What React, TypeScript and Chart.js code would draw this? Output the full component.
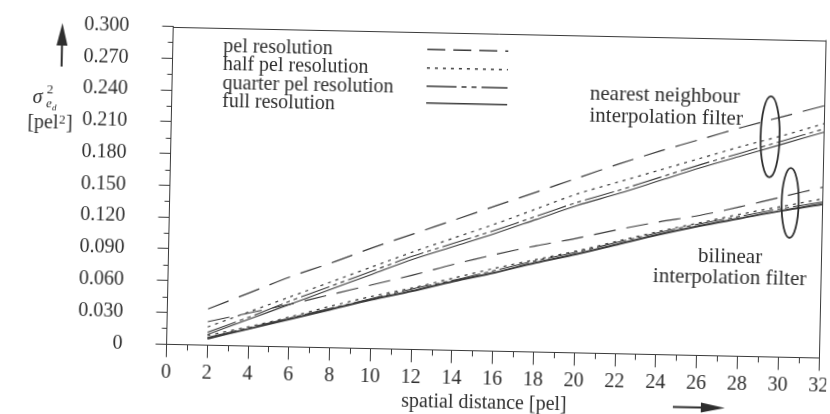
import { useEffect, useRef } from "react";
import { Chart, registerables } from "chart.js";

Chart.register(...registerables);

// ---- data ----
const distances = [2, 4, 6, 8, 10, 12, 14, 16, 18, 20, 22, 24, 26, 28, 30, 32];

// nearest neighbour interpolation filter
const pelNN = [0.034, 0.05, 0.066, 0.08, 0.095, 0.109, 0.123, 0.137, 0.151, 0.165, 0.179, 0.192, 0.204, 0.216, 0.227, 0.238];
const halfNN = [0.017, 0.032, 0.047, 0.062, 0.077, 0.092, 0.106, 0.12, 0.135, 0.15, 0.162, 0.174, 0.186, 0.198, 0.209, 0.221];
const quarterNN = [0.012, 0.027, 0.043, 0.058, 0.073, 0.088, 0.101, 0.114, 0.128, 0.142, 0.154, 0.167, 0.18, 0.192, 0.204, 0.216];
const fullNN = [0.01, 0.025, 0.04, 0.055, 0.07, 0.085, 0.098, 0.111, 0.125, 0.139, 0.151, 0.164, 0.177, 0.189, 0.201, 0.213];

// bilinear interpolation filter
const pelBL = [0.022, 0.031, 0.04, 0.05, 0.06, 0.07, 0.081, 0.091, 0.1, 0.108, 0.117, 0.125, 0.132, 0.141, 0.151, 0.161];
const halfBL = [0.009, 0.018, 0.028, 0.039, 0.049, 0.058, 0.068, 0.078, 0.087, 0.096, 0.106, 0.116, 0.125, 0.134, 0.142, 0.15];
const quarterBL = [0.007, 0.017, 0.027, 0.037, 0.047, 0.057, 0.066, 0.076, 0.086, 0.095, 0.105, 0.115, 0.124, 0.132, 0.14, 0.147];
const fullBL = [0.006, 0.016, 0.026, 0.036, 0.046, 0.055, 0.065, 0.074, 0.084, 0.093, 0.103, 0.113, 0.122, 0.13, 0.138, 0.145];

const legendLabels = ["pel resolution", "half pel resolution", "quarter pel resolution", "full resolution"];
const filterNames = ["nearest neighbour", "bilinear"];

const xMinorTicks = [1, 3, 5, 7, 9, 11, 13, 15, 17, 19, 21, 23, 25, 27, 29, 31];
const yMinorTicks = [0.015, 0.045, 0.075, 0.105, 0.135, 0.165, 0.195, 0.225, 0.255, 0.285];

// annotation texts placed in data coordinates
const noteTexts = ["nearest neighbour", "interpolation filter", "bilinear", "interpolation filter"];
const noteX = [20.5, 20.5, 27.54, 27.54];
const noteY = [0.2392, 0.2184, 0.0882, 0.0683];
const noteAlign = ["left", "left", "center", "center"];

// ellipses marking the groups (centre and radii in data units)
const ellipseCX = [29.38, 30.43];
const ellipseCY = [0.2076, 0.1456];
const ellipseRX = [0.466, 0.417];
const ellipseRY = [0.0382, 0.033];

// ---- styles ----
const FONT = '"Liberation Serif", "Times New Roman", Times, serif';
const INK = "#2e2e2e";
const LINE = "#3a3a3a";
const lineStyles = [
  { dash: [22, 11], width: 1.2 },
  { dash: [3, 5], width: 1.2 },
  { dash: [30, 4, 4, 4, 4, 4], width: 1.1 },
  { dash: [] as number[], width: 1.1 },
];

function series(values: number[]) {
  return distances.map((d, i) => ({ x: d, y: values[i] }));
}

const decorations = {
  id: "decorations",
  afterDraw(chart: any) {
    const { ctx, chartArea, scales } = chart;
    const { left, right, top, bottom } = chartArea;
    const xs = scales.x;
    const ys = scales.y;
    ctx.save();

    // top and right frame
    ctx.strokeStyle = LINE;
    ctx.lineWidth = 1;
    ctx.setLineDash([]);
    ctx.beginPath();
    ctx.moveTo(left, Math.round(top) + 0.5);
    ctx.lineTo(right, Math.round(top) + 0.5);
    ctx.moveTo(Math.round(right) + 0.5, top);
    ctx.lineTo(Math.round(right) + 0.5, bottom);
    ctx.stroke();

    // minor ticks
    ctx.beginPath();
    xMinorTicks.forEach((v) => {
      const px = Math.round(xs.getPixelForValue(v)) + 0.5;
      ctx.moveTo(px, bottom);
      ctx.lineTo(px, bottom + 6);
    });
    yMinorTicks.forEach((v) => {
      const py = Math.round(ys.getPixelForValue(v)) + 0.5;
      ctx.moveTo(left - 5, py);
      ctx.lineTo(left, py);
    });
    ctx.stroke();

    // legend
    ctx.fillStyle = INK;
    ctx.font = `20px ${FONT}`;
    ctx.textAlign = "left";
    ctx.textBaseline = "alphabetic";
    const rowBase = [56, 74.3, 92.6, 110.8];
    const rowLine = [49.3, 67.7, 86, 102.7];
    legendLabels.forEach((label, i) => {
      ctx.fillText(label, 220, rowBase[i]);
      const st = lineStyles[i];
      ctx.strokeStyle = LINE;
      ctx.lineWidth = i === 3 ? 1.6 : st.width + 0.2;
      ctx.setLineDash(i === 2 ? [30, 5, 5, 5, 5, 5] : i === 0 ? [18, 8] : st.dash);
      ctx.beginPath();
      ctx.moveTo(424, rowLine[i]);
      ctx.lineTo(505, rowLine[i]);
      ctx.stroke();
    });
    ctx.setLineDash([]);

    // group annotations
    ctx.font = `21px ${FONT}`;
    noteTexts.forEach((t, i) => {
      ctx.textAlign = noteAlign[i] as CanvasTextAlign;
      ctx.fillText(t, xs.getPixelForValue(noteX[i]), ys.getPixelForValue(noteY[i]));
    });

    // ellipses
    ctx.strokeStyle = "#2e2e2e";
    ctx.lineWidth = 1.8;
    ellipseCX.forEach((cx, i) => {
      const px = xs.getPixelForValue(cx);
      const py = ys.getPixelForValue(ellipseCY[i]);
      const rx = Math.abs(xs.getPixelForValue(cx + ellipseRX[i]) - px);
      const ry = Math.abs(ys.getPixelForValue(ellipseCY[i] + ellipseRY[i]) - py);
      ctx.beginPath();
      ctx.ellipse(px, py, rx, ry, 0, 0, Math.PI * 2);
      ctx.stroke();
    });

    // y axis title: arrow + sigma^2_{e_d} + [pel^2]
    ctx.fillStyle = INK;
    ctx.strokeStyle = INK;
    ctx.lineWidth = 2;
    ctx.beginPath();
    ctx.moveTo(58.7, 74);
    ctx.lineTo(58.7, 50);
    ctx.stroke();
    ctx.beginPath();
    ctx.moveTo(58.7, 30.5);
    ctx.lineTo(53.2, 53);
    ctx.lineTo(64.2, 53);
    ctx.closePath();
    ctx.fill();

    ctx.textAlign = "left";
    ctx.font = `italic 20px ${FONT}`;
    ctx.fillText("σ", 30.6, 110.9);
    ctx.font = `13px ${FONT}`;
    ctx.fillText("2", 44.6, 100.7);
    ctx.font = `italic 13px ${FONT}`;
    ctx.fillText("e", 44, 115.1);
    ctx.font = `italic 9px ${FONT}`;
    ctx.fillText("d", 50, 117.5);

    ctx.font = `20px ${FONT}`;
    const pre = "[pel";
    ctx.fillText(pre, 25.7, 136.1);
    const w1 = ctx.measureText(pre).width;
    ctx.font = `13px ${FONT}`;
    ctx.fillText("2", 25.7 + w1 + 0.5, 131);
    const w2 = ctx.measureText("2").width;
    ctx.font = `20px ${FONT}`;
    ctx.fillText("]", 25.7 + w1 + w2 + 1, 136.1);

    // x axis title + arrow
    ctx.textAlign = "center";
    ctx.fillText("spatial distance [pel]", 488, 407);
    ctx.lineWidth = 2;
    ctx.beginPath();
    ctx.moveTo(677, 401.5);
    ctx.lineTo(708, 401.5);
    ctx.stroke();
    ctx.beginPath();
    ctx.moveTo(729, 401.5);
    ctx.lineTo(705, 396.5);
    ctx.lineTo(705, 406.5);
    ctx.closePath();
    ctx.fill();

    ctx.restore();
  },
};

export default function App() {
  const canvasRef = useRef<HTMLCanvasElement | null>(null);

  useEffect(() => {
    const canvas = canvasRef.current;
    if (!canvas) return;

    const groups = [
      { name: filterNames[0], sets: [pelNN, halfNN, quarterNN, fullNN] },
      { name: filterNames[1], sets: [pelBL, halfBL, quarterBL, fullBL] },
    ];
    const datasets: any[] = [];
    groups.forEach((g, gi) => {
      g.sets.forEach((vals, i) => {
        const st = lineStyles[i];
        datasets.push({
          label: `${legendLabels[i]} (${g.name})`,
          data: series(vals),
          borderColor: LINE,
          borderWidth: gi === 1 && i === 3 ? 2 : st.width,
          borderDash: st.dash,
          pointRadius: 0,
          fill: false,
          tension: 0.3,
        });
      });
    });

    const chart = new Chart(canvas, {
      type: "line",
      data: { datasets },
      options: {
        animation: false,
        responsive: false,
        devicePixelRatio: 1,
        events: [],
        layout: { padding: { left: 0, top: 31.5, right: 8, bottom: 24.7 } },
        plugins: { legend: { display: false }, tooltip: { enabled: false }, title: { display: false } },
        scales: {
          x: {
            type: "linear",
            min: 0,
            max: 32,
            grid: { drawOnChartArea: false, drawTicks: true, tickLength: 13, tickColor: LINE, tickWidth: 1 },
            border: { display: true, color: LINE, width: 1 },
            ticks: {
              stepSize: 2,
              autoSkip: false,
              maxRotation: 0,
              padding: 3,
              color: INK,
              font: { family: FONT, size: 20 },
              callback: (v: any) => String(v),
            },
            afterFit: (scale: any) => {
              scale.height = 40;
              scale.paddingLeft = 0;
              scale.paddingRight = 0;
            },
          },
          y: {
            type: "linear",
            min: 0,
            max: 0.3,
            grid: { drawOnChartArea: false, drawTicks: true, tickLength: 11, tickColor: LINE, tickWidth: 1 },
            border: { display: true, color: LINE, width: 1 },
            ticks: {
              stepSize: 0.03,
              autoSkip: false,
              padding: 33,
              color: INK,
              font: { family: FONT, size: 20 },
              callback: (v: any) => (Math.abs(Number(v)) < 1e-9 ? "0" : Number(v).toFixed(3)),
            },
            afterFit: (scale: any) => {
              scale.width = 169.5;
              scale.paddingTop = 0;
              scale.paddingBottom = 0;
            },
          },
        },
      },
      plugins: [decorations],
    });

    return () => chart.destroy();
  }, []);

  return (
    <div
      style={{
        position: "fixed",
        left: 0,
        top: 0,
        width: 830,
        height: 414,
        overflow: "hidden",
        background: "#ffffff",
      }}
    >
      <canvas
        ref={canvasRef}
        width={830}
        height={414}
        style={{ display: "block", transform: "rotate(1.2deg)", transformOrigin: "50% 50%" }}
      />
    </div>
  );
}
